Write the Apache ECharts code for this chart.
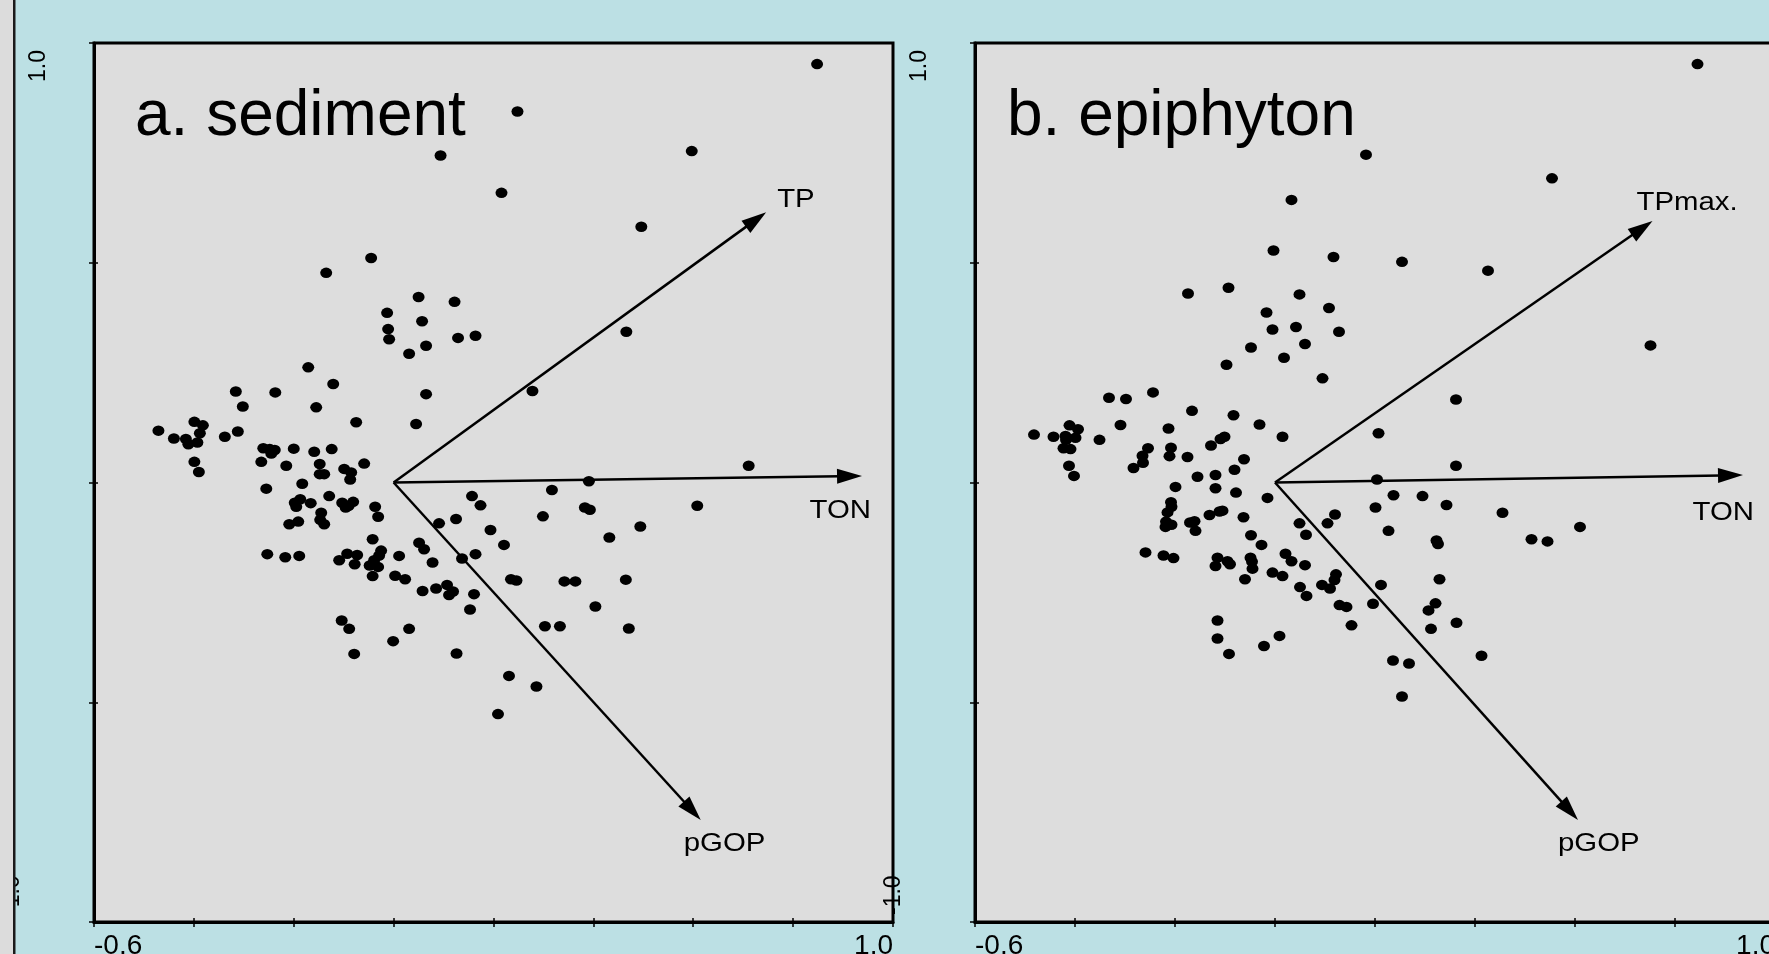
<!DOCTYPE html>
<html>
<head>
<meta charset="utf-8">
<script src="https://cdn.jsdelivr.net/npm/echarts@6/dist/echarts.min.js"></script>
<style>
html,body{margin:0;padding:0;background:#bce0e4;}
#chart{width:1769px;height:954px;}
</style>
</head>
<body>
<div id="chart"></div>
<script>
// ---------------- DATA ----------------
const panelTitles = ['a. sediment', 'b. epiphyton'];
const xTickLabels = ['-0.6', '1.0'];
const yTickLabels = ['-1.0', '1.0'];

const sedimentPoints = [
[-0.171,0.262],[-0.121,0.224],[-0.316,0.207],[-0.237,0.205],[0.065,0.201],[-0.302,0.173],[-0.155,0.171],[-0.399,0.138],[-0.382,0.130],[-0.075,0.137],
[0.045,0.133],[-0.471,0.118],[-0.312,0.116],[-0.388,0.112],[-0.440,0.100],[-0.338,0.104],[-0.416,0.099],[-0.411,0.087],[-0.393,0.091],[-0.261,0.078],
[-0.248,0.076],[-0.238,0.074],[-0.245,0.066],[-0.200,0.077],[-0.159,0.070],[-0.124,0.076],[-0.399,0.047],[-0.265,0.047],[-0.215,0.038],[-0.148,0.042],
[-0.099,0.031],[-0.085,0.023],[-0.059,0.043],[-0.148,0.019],[-0.139,0.019],[-0.087,0.007],[-0.390,0.024],[-0.183,-0.003],[-0.255,-0.014],[-0.198,-0.046],
[-0.187,-0.038],[-0.195,-0.055],[-0.166,-0.047],[-0.129,-0.031],[-0.103,-0.046],[-0.081,-0.044],[-0.096,-0.057],[-0.090,-0.053],[-0.037,-0.055],[-0.031,-0.078],
[-0.145,-0.069],[-0.147,-0.085],[-0.139,-0.095],[-0.209,-0.095],[-0.191,-0.089],[0.157,-0.031],[0.174,-0.052],[0.125,-0.083],[0.091,-0.093],[-0.042,-0.129],
[0.051,-0.137],[0.061,-0.152],[-0.253,-0.163],[-0.217,-0.170],[-0.189,-0.167],[-0.093,-0.162],[-0.073,-0.165],[-0.109,-0.177],[-0.078,-0.186],[-0.025,-0.155],
[-0.029,-0.166],[-0.039,-0.177],[-0.048,-0.189],[-0.031,-0.192],[0.011,-0.167],[-0.042,-0.213],[0.003,-0.212],[0.023,-0.220],[0.078,-0.182],[0.137,-0.173],
[0.164,-0.163],[0.058,-0.247],[0.085,-0.241],[0.107,-0.233],[0.119,-0.248],[0.111,-0.256],[0.161,-0.254],[0.153,-0.289],[-0.104,-0.314],[-0.089,-0.333],
[0.031,-0.333],[-0.001,-0.361],[-0.079,-0.390],[0.126,-0.389],
[0.711,0.038],[0.391,0.003],[0.317,-0.017],[0.383,-0.057],[0.393,-0.062],[0.608,-0.053],[0.299,-0.077],[0.494,-0.100],[0.432,-0.125],[0.194,-0.108],
[0.221,-0.142],[0.235,-0.220],[0.246,-0.223],[0.342,-0.225],[0.364,-0.225],[0.465,-0.221],[0.404,-0.282],[0.303,-0.327],[0.333,-0.327],[0.471,-0.332],
[0.231,-0.440],[0.286,-0.464],[0.209,-0.527],
[-0.045,0.511],[-0.135,0.477],[0.050,0.422],[0.122,0.411],[-0.013,0.386],[0.057,0.367],[-0.011,0.349],[-0.009,0.326],[0.129,0.329],[0.164,0.334],
[0.065,0.311],[0.031,0.293],[0.278,0.208],
[0.848,0.952],[0.248,0.844],[0.094,0.744],[0.597,0.754],[0.216,0.659],[0.496,0.582],[0.466,0.343]
];

const epiphytonPoints = [
[-0.332,0.193],[-0.298,0.190],[-0.244,0.205],[-0.166,0.163],[-0.083,0.153],[-0.309,0.131],[-0.031,0.132],[-0.411,0.130],[-0.394,0.121],[-0.482,0.109],
[-0.443,0.104],[-0.419,0.106],[-0.399,0.102],[-0.418,0.097],[-0.351,0.097],[-0.213,0.123],[0.015,0.104],[-0.423,0.078],[-0.409,0.076],[-0.254,0.078],
[-0.208,0.079],[-0.128,0.084],[-0.109,0.099],[-0.101,0.104],[-0.265,0.061],[-0.211,0.060],[-0.175,0.058],[-0.062,0.053],[-0.264,0.045],[-0.283,0.033],
[-0.412,0.038],[-0.402,0.015],[-0.081,0.029],[-0.155,0.013],[-0.119,0.017],[-0.199,-0.010],[-0.119,-0.013],[-0.078,-0.023],[-0.015,-0.035],[-0.208,-0.045],
[-0.207,-0.055],[-0.215,-0.068],[-0.218,-0.089],[-0.207,-0.096],[-0.219,-0.101],[-0.170,-0.091],[-0.161,-0.088],[-0.159,-0.110],[-0.131,-0.074],[-0.111,-0.066],
[-0.105,-0.064],[-0.063,-0.079],[0.049,-0.093],[0.062,-0.119],[0.105,-0.093],[0.120,-0.073],[-0.048,-0.120],[-0.027,-0.142],[-0.259,-0.159],[-0.223,-0.166],
[-0.203,-0.172],[-0.115,-0.171],[-0.119,-0.190],[-0.095,-0.179],[-0.090,-0.186],[-0.049,-0.171],[-0.046,-0.180],[-0.045,-0.196],[-0.060,-0.220],[0.021,-0.162],
[0.033,-0.179],[0.060,-0.188],[-0.005,-0.205],[0.015,-0.213],[0.050,-0.238],[0.063,-0.258],[0.094,-0.233],[0.110,-0.241],[0.122,-0.209],[0.119,-0.222],
[0.129,-0.279],[0.143,-0.283],[0.153,-0.325],[-0.115,-0.314],[-0.115,-0.355],[-0.092,-0.390],[-0.022,-0.372],[0.009,-0.349],
[0.362,0.189],[0.207,0.112],[0.362,0.038],[0.204,0.007],[0.237,-0.029],[0.295,-0.031],[0.343,-0.051],[0.201,-0.057],[0.455,-0.069],[0.610,-0.101],
[0.513,-0.129],[0.545,-0.134],[0.227,-0.110],[0.323,-0.132],[0.326,-0.140],[0.329,-0.220],[0.212,-0.233],[0.196,-0.276],[0.321,-0.275],[0.307,-0.291],
[0.363,-0.319],[0.312,-0.333],[0.236,-0.405],[0.268,-0.412],[0.413,-0.394],[0.254,-0.487],
[0.845,0.952],[0.182,0.746],[0.554,0.692],[0.033,0.643],[-0.003,0.528],[0.117,0.513],[0.254,0.502],[0.426,0.482],[-0.174,0.430],[-0.093,0.443],
[0.049,0.428],[-0.017,0.387],[0.108,0.397],[0.042,0.354],[-0.005,0.348],[0.128,0.343],[-0.048,0.307],[0.060,0.315],[0.751,0.312],[0.018,0.284],
[-0.097,0.268],[0.095,0.237]
];

const sedimentVectorNames = ['TP', 'TON', 'pGOP'];
const sedimentVectorEnds = [[0.746, 0.615], [0.938, 0.015], [0.615, -0.768]];
const epiphytonVectorNames = ['TPmax.', 'TON', 'pGOP'];
const epiphytonVectorEnds = [[0.755, 0.595], [0.936, 0.017], [0.606, -0.768]];

// ---------------- STYLE ----------------
const FONT = '"Liberation Sans", Arial, sans-serif';
const vectorLabelStyle = [
  [{dx: 11, dy: -12, align: 'left'}, {dx: 9, dy: 35, align: 'right'}, {dx: -17, dy: 24, align: 'left'}],
  [{dx: -16, dy: -18, align: 'left'}, {dx: 11, dy: 38, align: 'right'}, {dx: -20, dy: 24, align: 'left'}]
];
const gridBoxes = [
  {left: 94, top: 43, width: 799, height: 879},
  {left: 975, top: 43, width: 800, height: 879}
];
const titlePos = [{left: 135, top: 85}, {left: 1007, top: 85}];

function fmt(v) { return (Math.round(v * 10) / 10).toFixed(1); }

function makeAxes(gi) {
  const xs = [], ys = [];
  const xBase = {
    gridIndex: gi, type: 'value', min: -0.6, max: 1.0, interval: 0.2, position: 'bottom',
    splitLine: {show: false}
  };
  xs.push(Object.assign({}, xBase, {
    axisLine: {show: true, onZero: false, lineStyle: {color: '#000', width: 3}},
    axisTick: {show: true, inside: false, length: 5, lineStyle: {color: '#000', width: 1.5}},
    axisLabel: {
      show: true, margin: 10, fontSize: 28, color: '#000', fontFamily: FONT,
      showMinLabel: true, showMaxLabel: true, hideOverlap: false,
      alignMinLabel: 'left', alignMaxLabel: 'right',
      formatter: v => xTickLabels.includes(fmt(v)) ? fmt(v) : ''
    }
  }));
  xs.push(Object.assign({}, xBase, {
    axisLine: {show: false, onZero: false},
    axisTick: {show: true, inside: true, length: 4, lineStyle: {color: '#000', width: 1.5}},
    axisLabel: {show: false}
  }));
  const yBase = {
    gridIndex: gi, type: 'value', min: -1.0, max: 1.0, interval: 0.5, position: 'left',
    splitLine: {show: false}
  };
  ys.push(Object.assign({}, yBase, {
    axisLine: {show: true, onZero: false, lineStyle: {color: '#000', width: 3}},
    axisTick: {show: true, inside: false, length: 5, lineStyle: {color: '#000', width: 1.5}},
    axisLabel: {
      show: true, rotate: 90, margin: 44, fontSize: 23, color: '#000', fontFamily: FONT,
      showMinLabel: true, showMaxLabel: true, hideOverlap: false,
      alignMinLabel: 'left', alignMaxLabel: 'right',
      formatter: v => {
        const s = fmt(v);
        if (!yTickLabels.includes(s)) return '';
        return v > 0 ? '{hi|' + s + '}' : '{lo|' + s + '}';
      },
      rich: {
        hi: {fontSize: 23, fontFamily: FONT, color: '#000', padding: [0, 7, 0, 0]},
        lo: {fontSize: 23, fontFamily: FONT, color: '#000', padding: [0, 0, 26, 7]}
      }
    }
  }));
  ys.push(Object.assign({}, yBase, {
    axisLine: {show: false, onZero: false},
    axisTick: {show: true, inside: true, length: 4, lineStyle: {color: '#000', width: 1.5}},
    axisLabel: {show: false}
  }));
  return {xs, ys};
}

function arrowSeries(gi, ends, names) {
  const offs = vectorLabelStyle[gi];
  return {
    type: 'custom', coordinateSystem: 'cartesian2d',
    xAxisIndex: gi * 2, yAxisIndex: gi * 2,
    data: ends, clip: false, silent: true, z: 5,
    renderItem: (params, api) => {
      const i = params.dataIndex;
      const o = api.coord([0, 0]);
      const t = api.coord([api.value(0), api.value(1)]);
      const dx = t[0] - o[0], dy = t[1] - o[1];
      const len = Math.hypot(dx, dy);
      const ux = dx / len, uy = dy / len;
      const hl = 25, hw = 7.5;
      const bx = t[0] - ux * hl, by = t[1] - uy * hl;
      const off = offs[i];
      return {
        type: 'group',
        children: [
          {type: 'line', shape: {x1: o[0], y1: o[1], x2: bx + ux * 3, y2: by + uy * 3},
           style: {stroke: '#000', lineWidth: 2.5}},
          {type: 'polygon', shape: {points: [[t[0], t[1]], [bx - uy * hw, by + ux * hw], [bx + uy * hw, by - ux * hw]]},
           style: {fill: '#000'}},
          {type: 'text', x: t[0] + off.dx, y: t[1] + off.dy, scaleX: 1.13, scaleY: 1,
           style: {text: names[i], fill: '#000', fontSize: 26, fontFamily: FONT,
                   align: off.align, textAlign: off.align, verticalAlign: 'middle', textVerticalAlign: 'middle'}}
        ]
      };
    }
  };
}

const a0 = makeAxes(0), a1 = makeAxes(1);

const option = {
  animation: false,
  backgroundColor: '#bce0e4',
  title: panelTitles.map((t, i) => ({
    text: t, left: titlePos[i].left, top: titlePos[i].top, padding: 0,
    textStyle: {fontSize: 64, fontWeight: 'normal', fontFamily: FONT, color: '#000', lineHeight: 64}
  })),
  grid: gridBoxes.map(g => Object.assign({
    show: true, backgroundColor: '#dddddd', borderColor: '#000', borderWidth: 3,
    containLabel: false, outerBoundsMode: 'none'
  }, g)),
  xAxis: a0.xs.concat(a1.xs),
  yAxis: a0.ys.concat(a1.ys),
  series: [
    {type: 'scatter', xAxisIndex: 0, yAxisIndex: 0, data: sedimentPoints, symbol: 'circle',
     symbolSize: [12, 10.5], itemStyle: {color: '#000', opacity: 1}, silent: true, z: 10},
    {type: 'scatter', xAxisIndex: 2, yAxisIndex: 2, data: epiphytonPoints, symbol: 'circle',
     symbolSize: [12, 10.5], itemStyle: {color: '#000', opacity: 1}, silent: true, z: 10},
    arrowSeries(0, sedimentVectorEnds, sedimentVectorNames),
    arrowSeries(1, epiphytonVectorEnds, epiphytonVectorNames)
  ],
  graphic: [
    {type: 'rect', left: 0, top: 0, shape: {x: 0, y: 0, width: 13, height: 954}, style: {fill: '#dcdcdc'}, z: 100},
    {type: 'rect', left: 13, top: 0, shape: {x: 0, y: 0, width: 2.5, height: 954}, style: {fill: '#1a1a1a'}, z: 100}
  ]
};

const chart = echarts.init(document.getElementById('chart'), null, {renderer: 'canvas'});
chart.setOption(option);
</script>
</body>
</html>
